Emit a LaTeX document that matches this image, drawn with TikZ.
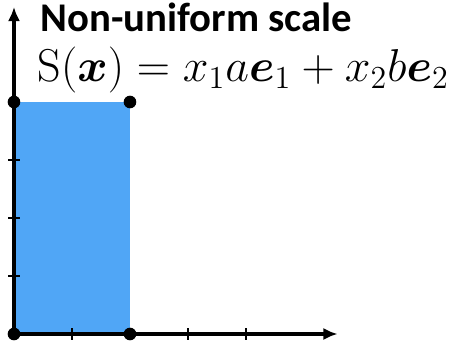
\documentclass[tikz,border=0pt]{standalone}
\usepackage{fontspec}
\usepackage{amsmath}
\usepackage{bm}
\usepackage{xcolor}
\usetikzlibrary{arrows.meta}
\newfontfamily\titlefont{Carlito}
\definecolor{scalefill}{RGB}{80,166,246}

\begin{document}
\begin{tikzpicture}[
    axis/.style={line width=1.5pt,-{Latex[length=7pt,width=6pt]}},
    tick/.style={line width=1pt},
    corner/.style={circle,fill=black,inner sep=0pt,minimum size=6.2pt}
]
    \useasboundingbox (-0.241,-0.19) rectangle (7.604,5.759);

    % scaled unit square
    \fill[scalefill] (0,0) rectangle (2,4);

    \coordinate (O) at (0,0);
    \coordinate (xend) at (5.58,0);
    \coordinate (yend) at (0,5.64);

    \foreach \t in {1,2,3,4} {
        \draw[tick] (\t,-0.1) -- (\t,0.1);
    }
    \foreach \t in {1,2,3} {
        \draw[tick] (-0.1,\t) -- (0.1,\t);
    }
    \draw[axis] (O) -- (xend);
    \draw[axis] (O) -- (yend);

    \node[corner] (p00) at (0,0) {};
    \node[corner] (p20) at (2,0) {};
    \node[corner] (p04) at (0,4) {};
    \node[corner] (p24) at (2,4) {};

    \node[anchor=base west,inner sep=0pt,
          font=\titlefont\bfseries\fontsize{20}{22}\selectfont]
        (title) at (0.45,5.22) {Non-uniform scale};
    \node[anchor=base west,inner sep=0pt,font=\fontsize{20.74}{24}\selectfont]
        (rule) at (0.40,4.36)
        {\scalebox{1.09}{$\mathrm{S}(\bm{x}) = x_1 a\bm{e}_1 + x_2 b\bm{e}_2$}};
\end{tikzpicture}
\end{document}
